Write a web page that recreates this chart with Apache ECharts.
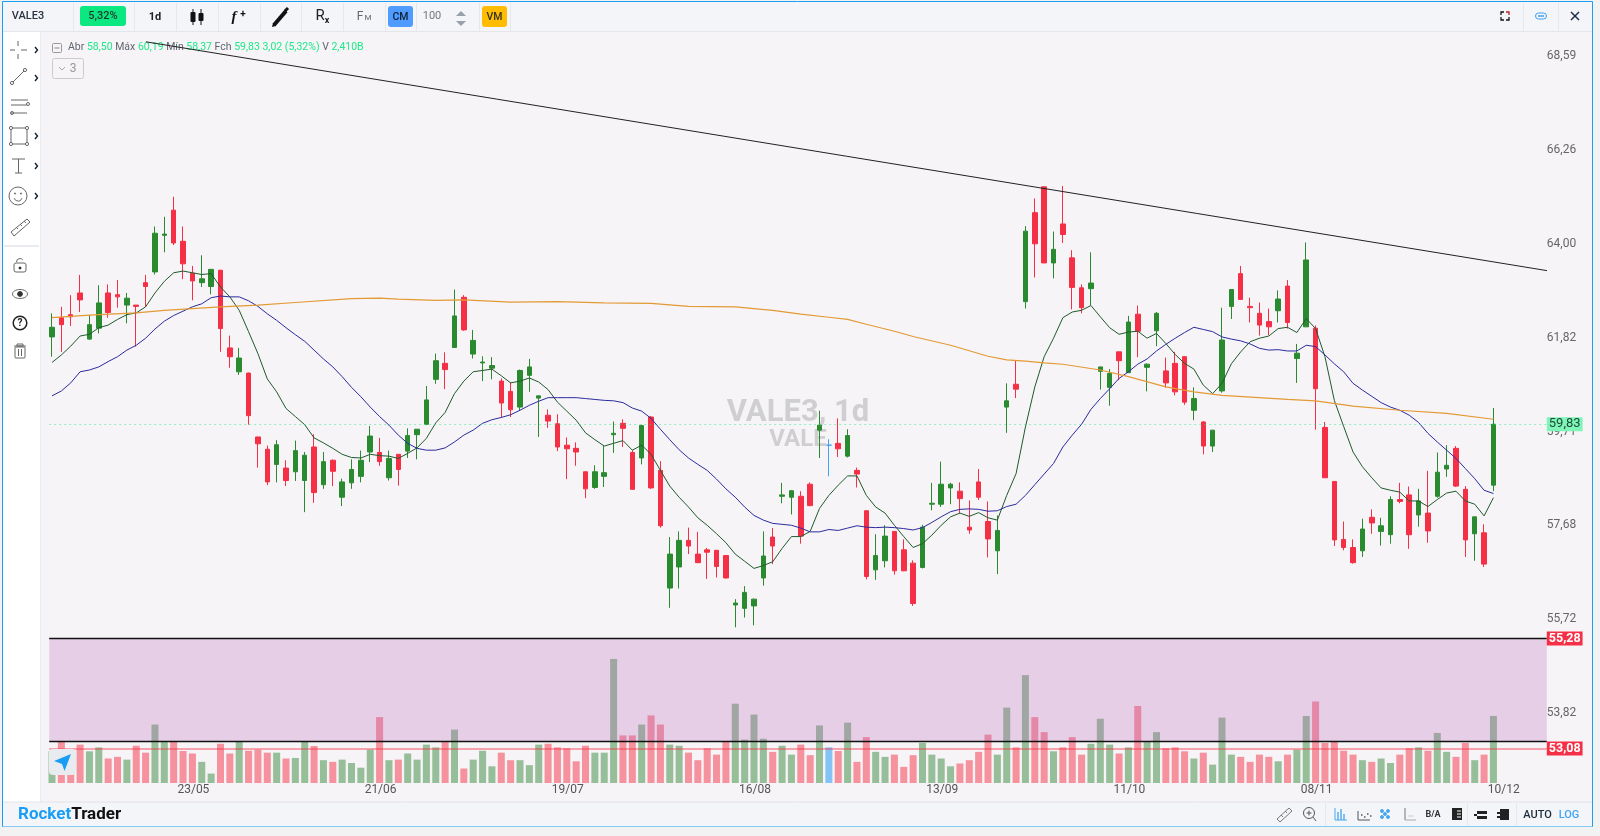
<!DOCTYPE html>
<html><head><meta charset="utf-8">
<style>html,body{margin:0;padding:0;background:#f2f2f2}#c{width:1600px;height:836px}</style>
<script src="https://cdn.jsdelivr.net/npm/echarts@6/dist/echarts.min.js"></script>
</head><body><div id="c"></div>
<script>
// [open, close, low, high]
const ohlc=[
[61.79,62.01,61.34,62.33],[62.23,62.07,61.45,62.48],[62.30,62.25,62.04,62.75],[62.80,62.64,62.36,63.22],[61.74,62.07,61.72,62.29],
[61.99,62.57,61.87,62.98],[62.80,62.35,62.23,63.00],[62.76,62.71,62.46,63.10],[62.52,62.68,62.10,62.80],[62.52,62.49,61.57,62.52],
[63.04,62.95,62.48,63.22],[63.29,64.20,63.23,64.36],[64.15,64.18,63.75,64.59],[64.75,63.97,63.92,65.07],[64.01,63.48,63.12,64.36],
[63.26,63.08,62.63,63.43],[63.04,63.13,62.94,63.68],[62.95,63.35,62.77,63.35],[63.33,61.98,61.45,63.33],[61.54,61.34,61.09,61.82],
[61.00,61.31,60.93,61.54],[60.97,60.02,59.82,60.98],[59.55,59.40,58.88,59.55],[59.28,58.57,58.50,59.36],[58.95,59.38,58.56,59.48],
[58.87,58.60,58.48,59.04],[58.79,59.25,58.59,59.47],[58.60,59.15,57.92,59.22],[59.33,58.34,58.12,59.61],[58.51,59.01,58.42,59.22],
[59.04,58.80,58.48,59.06],[58.24,58.57,58.05,58.64],[58.55,58.84,58.42,59.06],[58.69,59.04,58.56,59.25],[59.22,59.57,59.00,59.79],
[59.21,59.01,58.92,59.53],[58.66,59.08,58.60,59.25],[59.17,58.84,58.49,59.17],[59.24,59.58,59.09,59.74],[59.60,59.72,59.06,59.72],
[59.83,60.37,59.81,60.68],[60.83,61.25,60.73,61.41],[61.19,61.05,60.61,61.44],[61.55,62.27,61.55,62.88],[62.70,61.95,61.93,62.75],
[61.40,61.71,61.30,61.95],[61.20,61.22,60.79,61.35],[61.08,61.14,60.83,61.33],[60.79,60.30,59.98,60.85],[60.56,60.15,59.99,60.77],
[60.21,61.03,60.14,61.05],[60.92,61.11,60.55,61.29],[60.41,60.46,59.55,60.47],[60.03,59.90,59.75,60.16],[59.84,59.33,59.24,60.05],
[59.37,59.29,58.63,59.54],[59.30,59.22,58.92,59.43],[58.79,58.42,58.22,58.79],[58.45,58.79,58.42,58.93],[58.69,58.77,58.46,59.35],
[59.60,59.63,59.20,59.89],[59.85,59.74,59.33,59.94],[59.21,58.41,58.40,59.26],[59.09,59.80,58.95,59.82],[59.99,58.44,58.42,60.01],
[58.82,57.63,57.59,59.02],[56.32,57.03,55.91,57.39],[56.76,57.32,56.31,57.51],[57.32,57.20,57.03,57.59],[57.03,56.85,56.85,57.50],
[57.12,57.07,56.51,57.16],[57.11,56.77,56.54,57.11],[57.00,56.53,56.52,57.01],[55.97,56.01,55.51,56.09],[55.90,56.23,55.71,56.36],
[55.95,56.09,55.55,56.10],[56.53,56.99,56.37,57.51],[57.39,57.20,56.82,57.58],[58.26,58.29,58.11,58.55],[58.24,58.38,57.87,58.39],
[58.26,57.41,57.25,58.37],[58.52,58.06,58.05,58.56],[59.70,59.81,59.09,60.13],[59.37,59.37,58.69,59.50],[59.41,59.29,59.11,59.96],
[59.13,59.58,59.10,59.72],[58.82,58.74,58.45,58.88],[57.95,56.56,56.50,57.95],[56.70,57.00,56.49,57.45],[56.89,57.41,56.75,57.64],
[57.51,56.68,56.60,57.51],[57.12,56.68,56.67,57.34],[56.84,56.00,55.95,56.90],[56.75,57.60,56.73,57.65],[58.09,58.11,57.96,58.55],
[58.09,58.52,58.03,59.01],[58.44,58.52,58.09,58.55],[58.37,58.21,57.89,58.56],[57.60,57.54,57.46,58.17],[58.57,58.24,58.18,58.85],
[57.72,57.35,56.96,58.15],[57.10,57.53,56.61,57.85],[60.21,60.35,59.64,60.74],[60.72,60.61,60.41,61.26],[62.60,64.25,62.44,64.37],
[64.69,63.95,63.16,65.03],[65.31,63.50,63.50,65.31],[63.50,63.82,63.14,64.24],[64.42,64.17,63.97,65.33],[63.62,62.93,62.42,63.80],
[62.92,62.46,62.33,63.00],[62.90,63.03,62.52,63.75],[61.01,61.11,60.60,61.11],[60.65,60.96,60.24,61.06],[61.45,61.25,60.81,61.45],
[60.98,62.13,60.98,62.27],[62.31,61.92,61.33,62.51],[61.10,61.17,60.56,61.19],[61.93,62.33,61.58,62.36],[61.02,60.75,60.64,61.32],
[61.19,60.55,60.47,61.45],[61.34,60.32,60.26,61.35],[60.14,60.40,59.92,60.65],[59.88,59.35,59.17,59.90],[59.35,59.70,59.22,59.70],
[60.57,61.72,60.53,62.46],[62.49,62.88,62.20,62.88],[63.25,62.65,62.65,63.43],[62.49,62.46,62.12,62.69],[62.33,62.06,61.82,62.58],
[62.14,62.02,61.83,62.44],[62.39,62.66,62.12,62.86],[62.96,62.12,61.98,63.10],[61.30,61.42,60.75,61.63],[62.02,63.57,62.02,63.98],
[61.99,60.62,59.71,62.05],[59.76,58.66,58.66,59.88],[58.58,57.33,57.20,58.58],[57.34,57.17,57.11,57.72],[57.17,56.85,56.83,57.34],
[57.10,57.56,56.97,57.78],[57.81,57.69,57.46,57.98],[57.51,57.63,57.21,57.80],[57.44,58.19,57.25,58.26],[58.19,58.15,58.11,58.55],
[58.29,57.44,57.14,58.47],[57.86,58.16,57.61,58.42],[57.90,57.52,57.27,58.81],[58.26,58.78,58.23,59.21],[58.85,58.93,58.68,59.37],
[59.30,58.48,58.46,59.35],[58.41,57.33,56.97,58.48],[57.46,57.82,56.89,57.82],[57.48,56.82,56.76,57.66],[58.50,59.83,58.37,60.19]];
// traded volume, billions
const volume=[1.14,1.50,1.02,1.38,1.14,1.28,.88,.94,.84,1.34,1.09,2.10,1.50,1.50,1.15,1.06,.76,.34,1.41,1.06,
1.50,1.16,1.20,1.09,1.09,.88,.90,1.50,1.33,.82,.76,.84,.72,.55,1.20,2.37,.82,.84,1.06,.84,
1.38,1.28,1.50,1.92,.52,.84,1.16,.60,1.09,.82,.82,.64,1.38,1.41,1.28,1.25,.78,1.34,1.09,1.09,
4.46,1.71,1.71,2.10,2.43,2.10,1.38,1.34,1.09,.82,1.25,1.02,1.50,2.85,1.56,2.46,1.59,1.12,1.34,1.02,
1.38,1.00,2.07,1.28,1.15,2.17,.76,1.65,1.12,.94,1.02,.58,1.00,1.44,1.02,.88,.60,.70,.82,1.12,
1.74,1.02,2.71,1.28,3.88,2.37,1.83,1.14,1.28,1.65,1.02,1.41,2.31,1.38,1.06,1.28,2.77,1.50,1.83,1.25,
1.28,1.14,.88,1.09,.66,2.35,1.02,.94,.76,1.02,.94,.78,1.02,1.20,2.41,2.93,1.44,1.50,1.16,1.02,
.82,.76,.88,.72,1.02,1.25,1.28,1.16,1.80,1.12,.94,1.44,.82,1.02,2.41];
const maShort=[61.21,61.38,61.58,61.81,61.85,62.00,62.06,62.19,62.30,62.34,62.48,62.80,63.07,63.27,63.31,63.27,63.23,63.25,62.94,62.71,
62.40,61.91,61.41,60.84,60.55,60.18,60.00,59.82,59.53,59.42,59.30,59.17,59.10,59.09,59.17,59.14,59.13,59.08,59.19,59.31,
59.52,59.86,60.09,60.51,60.79,61.00,61.03,61.06,60.91,60.75,60.79,60.86,60.77,60.60,60.32,60.12,59.92,59.64,59.49,59.35,
59.41,59.47,59.26,59.37,59.17,58.82,58.48,58.24,58.03,57.80,57.64,57.46,57.27,57.03,56.88,56.73,56.79,56.87,57.15,57.40,
57.40,57.51,58.00,58.28,58.50,58.70,58.70,58.28,58.03,57.90,57.64,57.40,57.17,57.25,57.43,57.64,57.82,57.90,57.83,57.91,
57.80,57.75,58.28,58.75,59.77,60.66,61.34,61.76,62.23,62.36,62.40,62.51,62.25,62.00,61.85,61.90,61.92,61.76,61.87,61.64,
61.39,61.19,61.06,60.70,60.51,60.74,61.18,61.45,61.68,61.76,61.81,61.98,62.01,61.89,62.21,61.98,61.34,60.36,59.78,59.22,
58.90,58.66,58.44,58.39,58.35,58.16,58.16,58.04,58.19,58.33,58.37,58.16,58.09,57.84,58.23];
const maMid=[60.46,60.57,60.75,61.00,61.04,61.11,61.23,61.34,61.49,61.60,61.76,61.97,62.15,62.28,62.38,62.48,62.55,62.69,62.73,62.71,
62.71,62.62,62.49,62.32,62.17,62.00,61.84,61.69,61.49,61.29,61.11,60.89,60.65,60.44,60.21,60.00,59.81,59.59,59.41,59.30,
59.26,59.26,59.31,59.44,59.59,59.70,59.85,59.93,59.98,60.04,60.14,60.25,60.34,60.42,60.42,60.42,60.42,60.40,60.38,60.36,
60.35,60.31,60.19,60.12,59.96,59.72,59.49,59.27,59.09,58.95,58.82,58.63,58.42,58.24,58.03,57.85,57.75,57.68,57.66,57.64,
57.58,57.50,57.50,57.55,57.53,57.58,57.63,57.60,57.59,57.60,57.59,57.57,57.54,57.59,57.70,57.82,57.93,57.98,57.99,57.98,
57.94,57.95,58.04,58.09,58.28,58.51,58.74,58.97,59.33,59.59,59.83,60.16,60.40,60.62,60.85,61.00,61.17,61.29,61.47,61.62,
61.76,61.89,62.01,61.96,61.91,61.79,61.74,61.70,61.63,61.53,61.49,61.50,61.47,61.47,61.60,61.57,61.38,61.18,61.00,60.74,
60.59,60.45,60.31,60.21,60.14,60.03,59.87,59.63,59.44,59.26,59.08,58.86,58.64,58.39,58.32];
// long average, read at its visible bends
const maLongBars=[0,4,9,12,18,22,26,32,35,37,41,44,49,54,59,64,68,73,77,80,83,85,87,90,92,96,100,102,104,106,108,112,115,119,122,125,132,135,139,144,149,154];
const maLongValues=[62.23,62.29,62.34,62.40,62.48,62.52,62.58,62.67,62.68,62.66,62.63,62.64,62.59,62.60,62.57,62.56,62.49,62.48,62.40,62.31,62.24,62.19,62.08,61.92,61.80,61.60,61.35,61.27,61.24,61.20,61.17,61.04,60.89,60.66,60.55,60.47,60.38,60.35,60.23,60.14,60.07,59.94];
const unchangedBars=[83];
const trendBars=[10.04,159.72];
const trendValues=[68.90,63.32];
const bandValues=[55.28,53.23];
const supportValue=53.08;
const lastValue=59.83;
const priceTicks=[68.59,66.26,64.00,61.82,59.71,57.68,55.72,53.82];
const dateLabels=['23/05','21/06','19/07','16/08','13/09','11/10','08/11','10/12'];
const dateLabelBars=[15,35,55,75,95,115,135,155];
const slotCount=160;

const categories=Array.from({length:slotCount},()=> '');
dateLabelBars.forEach((b,k)=>{categories[b]=dateLabels[k];});
const comma=v=>v.toFixed(2).replace('.',',');

const RED='#f52f45',GREEN='#2a8a2f',BLUE='#3fa4f5';
const candleData=ohlc.map((r,i)=>unchangedBars.includes(i)
  ?{value:r,itemStyle:{color:BLUE,color0:BLUE,borderColor:BLUE,borderColor0:BLUE}}:r);
const volData=volume.map((v,i)=>{
  const up=ohlc[i][1]>ohlc[i][0];
  const c=unchangedBars.includes(i)?'rgba(63,164,245,.62)':(up?'rgba(42,130,47,.47)':'rgba(245,47,69,.5)');
  return {value:v,itemStyle:{color:c}};
});

// chrome helpers
const g=[];
const R=(x,y,w,h,fill,r,stroke,z)=>g.push({type:'rect',silent:true,z:z??0,shape:{x,y,width:w,height:h,r:r||0},style:{fill:fill||'none',stroke:stroke||null,lineWidth:1}});
const L=(x1,y1,x2,y2,c,w,z)=>g.push({type:'line',silent:true,z:z??0,shape:{x1,y1,x2,y2},style:{stroke:c,lineWidth:w||1}});
const C=(cx,cy,r,c,fill,w)=>g.push({type:'circle',silent:true,shape:{cx,cy,r},style:{stroke:c||null,fill:fill||'none',lineWidth:w||1}});
const P=(pts,c,w)=>g.push({type:'polyline',silent:true,shape:{points:pts},style:{stroke:c,lineWidth:w||1,fill:'none'}});
const G=(pts,fill,stroke,z)=>g.push({type:'polygon',silent:true,z:z??0,shape:{points:pts},style:{fill:fill||'none',stroke:stroke||null,lineWidth:1}});
const T=(s,x,y,font,fill,align,z)=>g.push({type:'text',silent:true,z:z??0,style:{text:s,x,y,font,fill,textAlign:align||'center',textVerticalAlign:'middle'}});
const UI='Roboto, sans-serif';

// frame
R(0,0,1600,836,'#f2f2f2',0,null,-30);
R(2.5,1.5,1590,825,'#ffffff',0,'#1a9ef5',-29);
R(3,2,1589,29.5,'#f3f5f9',0,null,-28);
L(3,31.5,1592,31.5,'#e4e6ea',1,-28);
R(40,32,1552,770,'#f6f4f6',0,null,-28);
L(40.5,32,40.5,802,'#e9ebef',1,-27);
R(3,802,1589,24.5,'#f3f5f9',0,null,-28);
L(3,802,1592,802,'#e2e4e8',1,-27);
[73,134,176,218,260,301,343,385,416,479,510,1523,1558].forEach(x=>L(x+.5,3,x+.5,31,'#e6e8ec',1,-27));
[1325,1467,1516].forEach(x=>L(x+.5,803,x+.5,826,'#e6e8ec',1,-27));
L(4,246,39,246,'#e9ebef',2,-27);

// top toolbar
T('VALE3',28,16,'500 11px '+UI,'#2d3340');
R(80,6,46,20,'#0be881',3);T('5,32%',103,16.5,'500 11px '+UI,'#1d3b2c');
T('1d',155,17,'bold 11px '+UI,'#222');
L(193,9,193,25,'#111',1);R(190.5,12,5,10,'#111',1);L(201,9,201,25,'#111',1);R(198.5,13,5,8,'#111',1);
T('f',234,17,'italic bold 15px "Liberation Serif"','#111');T('+',243,14,'bold 10px '+UI,'#111');
L(274,25,286,11,'#111',4);G([[272,27],[273,23],[276,26]],'#111');L(285,11,288,8,'#111',3);
T('R',320,16,'15px '+UI,'#222');T('x',327,21,'bold 9px '+UI,'#222');
T('F',360,17,'12px '+UI,'#666');T('M',368,18,'8px '+UI,'#666');
R(388,6,25,21,'#4f9bff',3);T('CM',400.5,17,'500 10.5px '+UI,'#123');
T('100',432,16.5,'11px '+UI,'#777');
G([[456,16],[461,11],[466,16]],'#9aa0a8');G([[456,21],[466,21],[461,26]],'#9aa0a8');
R(482,6,25,21,'#ffbc00',3);T('VM',494.5,17,'500 10.5px '+UI,'#332');
// top right
P([[1501,15],[1501,12],[1504,12]],'#111',1.3);P([[1506,12],[1509,12],[1509,15]],'#b22',1.3);P([[1501,17],[1501,20],[1504,20]],'#111',1.3);P([[1506,20],[1509,20],[1509,17]],'#111',1.3);
R(1535.5,13,11,6,'none',3,'#3fa0f0');L(1538,16,1544,16,'#3fa0f0',1.5);
L(1571,12,1579,20,'#1a2a44',1.5);L(1579,12,1571,20,'#1a2a44',1.5);

// side tools
const chev=(y)=>P([[35,y-3],[37.5,y],[35,y+3]],'#123',1.4);
const K='#666';
L(10,50,15,50,K);L(21,50,27,50,K);L(18,41,18,46,K);L(18,54,18,59,K);chev(50);
L(13,82,24,71,K);C(12,83,1.6,K);C(25,70,1.6,K);chev(78);
L(11,100,28,100,K);L(11,105,27,105,K);L(11,113,27,113,K);C(28,104,1.5,K);C(12,113,1.5,K);
R(11,128,16,16,'none',0,K);[[11,128],[27,128],[11,144],[27,144]].forEach(p=>C(p[0],p[1],1.6,K,'#fff'));chev(136);
L(12,159,25,159,K);L(18.5,159,18.5,173,K);L(15,173,22,173,K);chev(166);
C(18,196,9,K);C(15,193.5,.6,K,K);C(21,193.5,.6,K,K);g.push({type:'arc',silent:true,shape:{cx:18,cy:197,r:4,startAngle:.3,endAngle:2.85},style:{stroke:K,fill:'none'}});chev(196);
G([[11,232],[27,219],[30,222],[14,236]],null,K);L(16,227,18,229,K);L(20,224,22,226,K);L(24,221,26,223,K);
R(14,263,12,9,'none',2,K);g.push({type:'arc',silent:true,shape:{cx:20,cy:262,r:3.5,startAngle:3.1,endAngle:5.6},style:{stroke:K,fill:'none'}});C(20,268,1,'#222','#222');
g.push({type:'ellipse',silent:true,shape:{cx:20,cy:294,rx:7.5,ry:4.5},style:{stroke:K,fill:'none'}});C(20,294,2.4,'#333','#333');
C(20,323,6.8,'#222','none',1.5);T('?',20,323.5,'bold 10px '+UI,'#222');
L(14,346,26,346,K);R(17,344,6,2,'none',0,K);R(15,347,10,11,'none',1,K);L(18.5,349,18.5,356,K);L(21.5,349,21.5,356,K);

// header legend
R(52.5,43.5,9,9,'none',1,'#999');L(54.5,48,59.5,48,'#888',1);
g.push({type:'text',silent:true,style:{x:68,y:47,textVerticalAlign:'middle',font:'10.5px '+UI,fill:'#5f6670',
 text:'Abr {v|58,50} Máx {v|60,19} Mín {v|58,37} Fch {v|59,83} {v|3,02 (5,32%)} V {v|2,410B}',
 rich:{v:{fill:'#1ee98a',font:'10.5px '+UI}}}});
R(52.5,58.5,31,20,'none',2,'#c9cbd0');P([[59,67],[62,70],[65,67]],'#aaa',1);T('3',73,68.5,'12px '+UI,'#999');

// watermark (behind the marks)
T('VALE3, 1d',798,413,'bold 31px '+UI,'#cfcfd1','center',-5);
T('VALE',798,440,'bold 24px '+UI,'#cfcfd1','center',-5);

// bottom bar
g.push({type:'text',silent:true,style:{x:18,y:815,textVerticalAlign:'middle',text:'{a|Rocket}{b|Trader}',
 rich:{a:{fill:'#1a9ef5',font:'bold 17px '+UI},b:{fill:'#111',font:'bold 17px '+UI}}}});
G([[1277,819],[1289,808],[1292,811],[1280,822]],null,'#777');L(1281,815,1283,817,'#777');L(1285,811,1287,813,'#777');
C(1309,813,5.5,'#555');L(1313,817,1316,821,'#555');L(1306.5,813,1311.5,813,'#555');L(1309,810.5,1309,815.5,'#555');
const B='#4aa8ef';
L(1335,808,1335,820,B);L(1335,820,1347,820,B);[1338,1341,1344].forEach((x,k)=>L(x,820,x,[812,809,814][k],B,1.4));
L(1358,811,1358,820,'#555');L(1358,820,1370,820,'#555');[[1361,815],[1364,817],[1367,814],[1370,816]].forEach(p=>L(p[0],p[1],p[0]+1.5,p[1],'#555',1.5));
[[1382,811],[1388,811],[1385,814],[1382,817],[1388,817]].forEach(p=>C(p[0],p[1],1.5,B,B));
L(1405,808,1405,820,'#777');L(1405,820,1416,820,'#aaa');L(1408,816,1414,816,'#ccc');
T('B/A',1433,815,'bold 9px '+UI,'#333');
R(1452,808,10,12,'#222');L(1457,811,1461,811,'#fff');L(1457,814,1461,814,'#fff');L(1457,817,1461,817,'#fff');
R(1477,811,10,3,'#222');R(1477,816,10,3,'#222');L(1474,815,1477,815,'#222',2);
R(1500,809,9,11,'#222');L(1497,813,1500,813,'#222',2);L(1497,817,1500,817,'#222',2);
T('AUTO',1537.5,815.5,'500 11px '+UI,'#1d2b3a');
T('LOG',1569,815.5,'500 11px '+UI,'#3fa4f5');

// navigation button over the volume bars
R(49,749,27,26,'#e8ebef',4,null,20);
G([[71,754],[64.5,771],[62,764],[54,761]],'#1a9ef5',null,21);

const option={
 animation:false,
 backgroundColor:'#f2f2f2',
 graphic:{elements:g},
 grid:[
  {left:47.32,top:32,width:1497.6,height:751,containLabel:false},
  {left:49.2,top:32,width:1497.6,height:751,containLabel:false}
 ],
 xAxis:[
  {type:'category',gridIndex:0,data:categories,boundaryGap:true,
   axisLine:{show:false},axisTick:{show:false},splitLine:{show:false},
   axisLabel:{interval:0,margin:1,hideOverlap:false,color:'#555',fontSize:12,fontFamily:'Roboto',padding:[0,0,0,2]}},
  {type:'value',gridIndex:1,min:-0.3,max:159.7,show:false}
 ],
 yAxis:[
  {type:'log',gridIndex:0,min:52.41,max:69.15,show:false,splitLine:{show:false}},
  {type:'value',gridIndex:0,min:0,max:27,show:false,splitLine:{show:false}},
  {type:'log',gridIndex:1,min:52.41,max:69.15,position:'right',
   axisLine:{show:false},axisTick:{show:false},splitLine:{show:false},minorTick:{show:false},minorSplitLine:{show:false},
   axisLabel:{customValues:priceTicks,margin:0,color:'#666',fontSize:12,fontFamily:'Roboto',
    formatter:v=>'{a|'+comma(+v)+'}',rich:{a:{color:'#666',fontSize:12,fontFamily:'Roboto',padding:[4,0,0,0]}},
    showMinLabel:true,showMaxLabel:true}}
 ],
 series:[
  {type:'bar',name:'Volume',xAxisIndex:0,yAxisIndex:1,barWidth:7,data:volData,z:2,silent:true},
  {type:'candlestick',name:'VALE3',xAxisIndex:0,yAxisIndex:0,barWidth:5,data:candleData,z:3,silent:true,
   itemStyle:{color:GREEN,color0:RED,borderColor:GREEN,borderColor0:RED,borderWidth:1}},
  {type:'line',name:'MA curta',xAxisIndex:0,yAxisIndex:0,data:maShort,showSymbol:false,symbol:'none',z:4,silent:true,
   lineStyle:{color:'#1f5a2c',width:1}},
  {type:'line',name:'MA média',xAxisIndex:0,yAxisIndex:0,data:maMid,showSymbol:false,symbol:'none',z:4,silent:true,
   lineStyle:{color:'#2b2b9e',width:1}},
  {type:'line',name:'MA longa',xAxisIndex:1,yAxisIndex:2,data:maLongBars.map((b,k)=>[b,maLongValues[k]]),showSymbol:false,symbol:'none',z:4,silent:true,
   lineStyle:{color:'#e39a35',width:1.2}},
  {type:'line',name:'Tendência',xAxisIndex:1,yAxisIndex:2,data:trendBars.map((b,k)=>[b,trendValues[k]]),showSymbol:false,symbol:'none',z:5,silent:true,
   lineStyle:{color:'#222',width:1},
   markArea:{silent:true,z:6,itemStyle:{color:'rgba(185,108,189,.28)'},data:[[{yAxis:bandValues[0]},{yAxis:bandValues[1]}]]},
   markLine:{silent:true,z:7,symbol:'none',precision:2,
    data:[
     {yAxis:lastValue,lineStyle:{color:'rgba(20,230,130,.45)',type:[2,3],width:1},
      label:{position:'end',distance:0,formatter:()=>comma(lastValue),backgroundColor:'#80f5b9',color:'#1d4a34',fontSize:13,fontFamily:'Roboto',padding:[1,2,0,2]}},
     {yAxis:bandValues[0],lineStyle:{color:'#111',type:'solid',width:1.3},
      label:{position:'end',distance:0,formatter:()=>comma(bandValues[0]),backgroundColor:RED,color:'#fff',fontWeight:'bold',fontSize:12.5,fontFamily:'Roboto',padding:[1,2,0,2]}},
     {yAxis:bandValues[1],lineStyle:{color:'#111',type:'solid',width:1.3},label:{show:false}},
     {yAxis:supportValue,lineStyle:{color:'rgba(245,47,69,.55)',type:'solid',width:1.5},
      label:{position:'end',distance:0,formatter:()=>comma(supportValue),backgroundColor:RED,color:'#fff',fontWeight:'bold',fontSize:12.5,fontFamily:'Roboto',padding:[1,2,0,2]}}
    ]}}
 ]
};
const chart=echarts.init(document.getElementById('c'),null,{width:1600,height:836});
chart.setOption(option);
</script></body></html>
